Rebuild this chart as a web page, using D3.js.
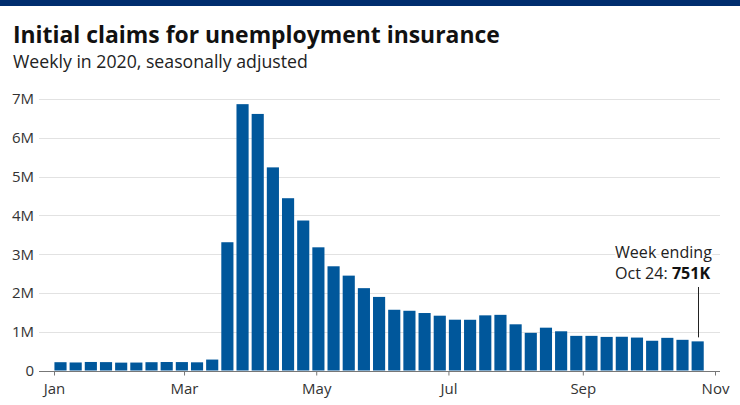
<!DOCTYPE html>
<html>
<head>
<meta charset="utf-8">
<script src="https://cdn.jsdelivr.net/npm/d3@7/dist/d3.min.js"></script>
<style>
  html, body { margin: 0; padding: 0; background: #fff; }
  svg { display: block; font-family: "Open Sans", Lato, sans-serif; }
</style>
</head>
<body>
<svg id="chart" width="740" height="405"></svg>
<script>
// ---- Data ----
const weekEnding = [
  "2020-01-04","2020-01-11","2020-01-18","2020-01-25","2020-02-01","2020-02-08",
  "2020-02-15","2020-02-22","2020-02-29","2020-03-07","2020-03-14","2020-03-21",
  "2020-03-28","2020-04-04","2020-04-11","2020-04-18","2020-04-25","2020-05-02",
  "2020-05-09","2020-05-16","2020-05-23","2020-05-30","2020-06-06","2020-06-13",
  "2020-06-20","2020-06-27","2020-07-04","2020-07-11","2020-07-18","2020-07-25",
  "2020-08-01","2020-08-08","2020-08-15","2020-08-22","2020-08-29","2020-09-05",
  "2020-09-12","2020-09-19","2020-09-26","2020-10-03","2020-10-10","2020-10-17",
  "2020-10-24"
];
const claimsK = [
  214, 207, 220, 216, 203, 205,
  214, 219, 217, 211, 282, 3307,
  6867, 6615, 5237, 4442, 3867, 3176,
  2687, 2446, 2123, 1897, 1566, 1540,
  1482, 1413, 1310, 1308, 1422, 1435,
  1191, 971, 1104, 1011, 893, 893,
  866, 870, 849, 767, 842, 791,
  751
];
const yTickValues = [0, 1000, 2000, 3000, 4000, 5000, 6000, 7000];
const yTickLabels = ["0", "1M", "2M", "3M", "4M", "5M", "6M", "7M"];
const xTickDates = ["2020-01-01","2020-03-01","2020-05-01","2020-07-01","2020-09-01","2020-11-01"];
const xTickLabels = ["Jan", "Mar", "May", "Jul", "Sep", "Nov"];
const titleText = "Initial claims for unemployment insurance";
const subtitleText = "Weekly in 2020, seasonally adjusted";
const noteLine1 = "Week ending";
const noteLine2a = "Oct 24: ";
const noteLine2b = "751K";

// ---- Layout ----
const W = 740, H = 405;
const plotLeft = 39, plotRight = 720;
const parse = d3.utcParse("%Y-%m-%d");
const data = weekEnding.map((d, i) => ({ date: parse(d), value: claimsK[i] }));

const svg = d3.select("#chart");
const blue = "#00579b";
const textGray = "#333333";

// top band
svg.append("rect").attr("x", 0).attr("y", 0).attr("width", W).attr("height", 6).attr("fill", "#002d6e");

function fitText(sel, target) {
  const len = sel.node().getComputedTextLength();
  const fs = parseFloat(sel.attr("font-size"));
  sel.attr("font-size", (fs * target / len).toFixed(2));
}

const title = svg.append("text").attr("x", 13).attr("y", 43)
  .attr("font-size", 21).attr("font-weight", 700).attr("fill", "#111")
  .text(titleText);
fitText(title, 487);

const sub = svg.append("text").attr("x", 13).attr("y", 68)
  .attr("font-size", 16).attr("fill", "#222")
  .text(subtitleText);
fitText(sub, 295);

const x = d3.scaleUtc()
  .domain([parse("2020-01-01"), parse("2020-11-01")])
  .range([54, 715]);
const y = d3.scaleLinear().domain([0, 7000]).range([370.5, 99]);

// gridlines
svg.append("g").selectAll("line").data(yTickValues.slice(1)).join("line")
  .attr("x1", plotLeft).attr("x2", plotRight)
  .attr("y1", d => Math.round(y(d)) + 0.5).attr("y2", d => Math.round(y(d)) + 0.5)
  .attr("stroke", "#e2e2e2").attr("stroke-width", 1);

// y labels
svg.append("g").selectAll("text").data(yTickValues).join("text")
  .attr("x", 34).attr("y", d => y(d)).attr("dy", "0.36em")
  .attr("text-anchor", "end").attr("font-size", 15).attr("fill", textGray)
  .text((d, i) => yTickLabels[i]);

// bars
const weekPx = x(parse("2020-01-08")) - x(parse("2020-01-01"));
const barW = weekPx * 0.8;
svg.append("g").selectAll("rect").data(data).join("rect")
  .attr("x", d => x(d.date) - barW / 2)
  .attr("width", barW)
  .attr("y", d => y(d.value))
  .attr("height", d => y(0) - y(d.value))
  .attr("fill", blue);

// x axis
const xAxis = d3.axisBottom(x)
  .tickValues(xTickDates.map(parse))
  .tickFormat((d, i) => xTickLabels[i])
  .tickSize(4).tickPadding(8);
const gx = svg.append("g").attr("transform", `translate(0,${Math.round(y(0)) + 0.5})`).call(xAxis);
gx.select(".domain").remove();
gx.selectAll(".tick line").attr("stroke", "#777");
gx.selectAll(".tick text").attr("font-size", 15).attr("fill", textGray)
  .attr("font-family", "'Open Sans', Lato, sans-serif");
gx.append("line").attr("x1", plotLeft).attr("x2", plotRight).attr("y1", 0).attr("y2", 0)
  .attr("stroke", "#777").attr("stroke-width", 1);

// annotation
const last = data[data.length - 1];
const ax = Math.round(x(last.date)) + 0.5;
svg.append("line").attr("x1", ax).attr("x2", ax)
  .attr("y1", 287).attr("y2", y(last.value) - 4)
  .attr("stroke", "#222").attr("stroke-width", 1);
const note = svg.append("g").attr("fill", "#222");
const t1 = note.append("text").attr("x", 615).attr("y", 258)
  .attr("stroke", "#fff").attr("stroke-width", 4).attr("paint-order", "stroke")
  .attr("font-size", 15).text(noteLine1);
fitText(t1, 97);
const t2 = note.append("text").attr("x", 615).attr("y", 279)
  .attr("stroke", "#fff").attr("stroke-width", 4).attr("paint-order", "stroke")
  .attr("font-size", t1.attr("font-size"));
t2.append("tspan").text(noteLine2a);
t2.append("tspan").attr("font-weight", 700).attr("fill", "#111").text(noteLine2b);
</script>
</body>
</html>
